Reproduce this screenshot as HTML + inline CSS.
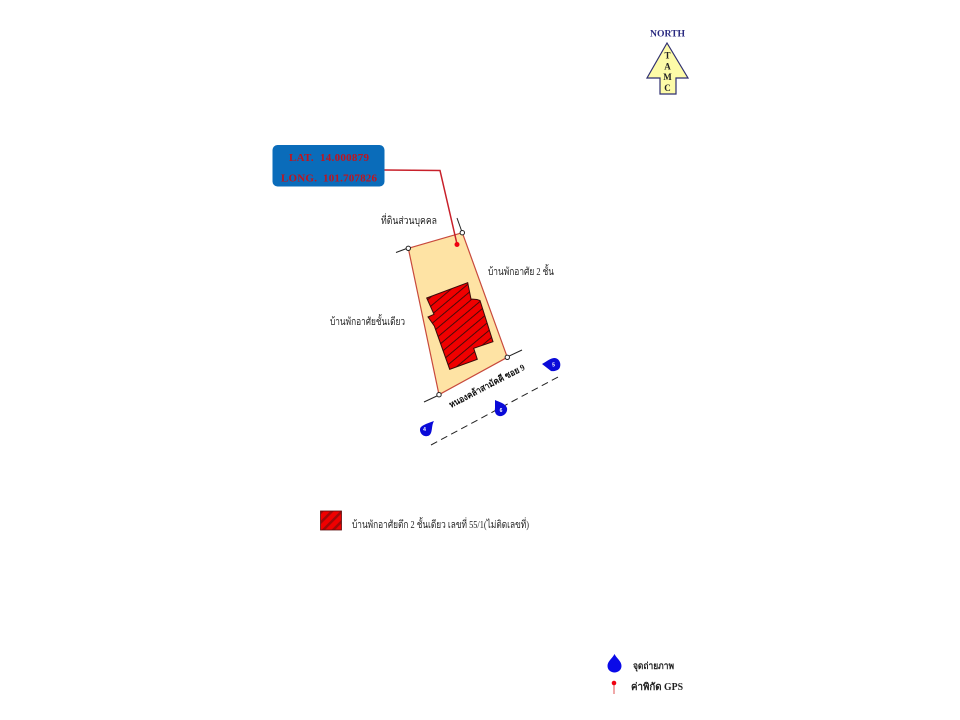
<!DOCTYPE html>
<html>
<head>
<meta charset="utf-8">
<style>
html,body{margin:0;padding:0;background:#fff}
svg{display:block;filter:blur(.3px)}
.s{font-family:"Liberation Serif","Noto Serif CJK SC","Noto Sans CJK SC",serif}
</style>
</head>
<body>
<svg width="960" height="720" viewBox="0 0 960 720" xmlns="http://www.w3.org/2000/svg">
<defs>
<pattern id="h" width="7" height="7" patternUnits="userSpaceOnUse" patternTransform="rotate(-40)">
<rect width="7" height="7" fill="#f00000"/>
<rect y="0" width="7" height="0.9" fill="#3a0a0a"/>
</pattern>
<pattern id="h2" width="7" height="7" patternUnits="userSpaceOnUse" patternTransform="rotate(-45)">
<rect width="7" height="7" fill="#f00000"/>
<rect y="0" width="7" height="2.500" fill="#a00808"/>
</pattern>
</defs>

<!-- North arrow -->
<text class="s" x="650" y="36.500" font-size="9" font-weight="bold" fill="#2a2a80" textLength="35" lengthAdjust="spacingAndGlyphs">NORTH</text>
<polygon points="667,43 688,78 676,78 676,94 660,94 660,78 647,78" fill="#fdfba8" stroke="#2f2f70" stroke-width="1.200"/>
<g class="s" font-size="9" font-weight="bold" fill="#222" text-anchor="middle">
<text x="667.500" y="58.500">T</text>
<text x="667.500" y="69.500">A</text>
<text x="667.500" y="80">M</text>
<text x="667.500" y="91">C</text>
</g>

<!-- Ticks -->
<g stroke="#222" stroke-width="1" fill="none">
<line x1="408" y1="248" x2="396" y2="252.500"/>
<line x1="462" y1="232" x2="457" y2="218"/>
<line x1="507" y1="357" x2="522" y2="350"/>
<line x1="439" y1="395" x2="424" y2="402"/>
</g>

<!-- Plot -->
<polygon points="408.300,248.300 462.300,232.700 507.300,357.300 439,394.700" fill="#fee3a4" stroke="#c8493c" stroke-width="1.200"/>
<g fill="#fff" stroke="#222" stroke-width="1">
<circle cx="408.300" cy="248.300" r="2.200"/>
<circle cx="462.300" cy="232.700" r="2.200"/>
<circle cx="507.300" cy="357.300" r="2.200"/>
<circle cx="439" cy="394.700" r="2.200"/>
</g>

<!-- Building -->
<polygon points="426.700,298 467.700,282.700 471,299 477,299.500 480,300.500 493,341.700 473.700,348.300 477.300,359.300 449.700,369.300 434.300,326 428,317 434,314.300" fill="url(#h)" stroke="#3a0a0a" stroke-width="1"/>

<!-- GPS callout -->
<rect x="272.500" y="145" width="112" height="41.500" rx="5" ry="5" fill="#0a6cba"/>
<text class="s" x="289" y="161" font-size="11" font-weight="bold" fill="#c0141e" textLength="80" lengthAdjust="spacing">LAT.&#160;&#160;14.000879</text>
<text class="s" x="281" y="181.500" font-size="11" font-weight="bold" fill="#c0141e" textLength="96" lengthAdjust="spacing">LONG.&#160;&#160;101.707826</text>
<polyline points="384.500,170 440,170.500 457,244" fill="none" stroke="#c8202a" stroke-width="1.500"/>
<circle cx="457" cy="244.500" r="2.500" fill="#f00010"/>

<!-- Labels -->
<g class="s" font-size="10.500" fill="#222">
<text x="381" y="224" textLength="56" lengthAdjust="spacingAndGlyphs">ที่ดินส่วนบุคคล</text>
<text x="488" y="275" textLength="66" lengthAdjust="spacingAndGlyphs">บ้านพักอาศัย 2 ชั้น</text>
<text x="330" y="325" textLength="75" lengthAdjust="spacingAndGlyphs">บ้านพักอาศัยชั้นเดียว</text>
</g>
<text class="s" font-size="9" font-weight="bold" fill="#111" transform="translate(451,408) rotate(-27.500)" textLength="84" lengthAdjust="spacingAndGlyphs">หนองคล้าสามัคคี ซอย 9</text>

<!-- Dashed road line -->
<line x1="431" y1="445" x2="558" y2="377" stroke="#222" stroke-width="1" stroke-dasharray="7 4.420"/>

<!-- Camera markers -->
<g fill="#0a0ad8">
<path d="M434,421 C431,426 433,433 429,435.500 C424,438 419.500,433.500 420,429 C420.500,425.500 426,424 434,421Z"/>
<path d="M495,400 C499,402 505,403 507,408 C508,413 503,417 499,416 C495,415 494.500,411 495,408Z"/>
<path d="M542,364 C546,362 550,358 555,358 C560,359 561,364 560,367 C559,371 553,371.500 551,371Z"/>
</g>
<g font-family="Liberation Sans,sans-serif" font-size="5" font-weight="bold" fill="#fff" text-anchor="middle">
<text x="424.500" y="431">4</text>
<text x="501" y="412">6</text>
<text x="553.500" y="366.500">5</text>
</g>

<!-- Legend: building -->
<rect x="320.500" y="511" width="21" height="19" fill="url(#h2)" stroke="#5a1010" stroke-width=".8"/>
<text class="s" x="352" y="528" font-size="10.500" fill="#222" textLength="177" lengthAdjust="spacingAndGlyphs">บ้านพักอาศัยตึก 2 ชั้นเดียว เลขที่ 55/1(ไม่ติดเลขที่)</text>

<!-- Legend: bottom-right -->
<path d="M614.500,654 C617,659 621.500,661 621.500,666 C621.500,670 618,672.500 614.500,672.500 C611,672.500 607.500,670 607.500,666 C607.500,661 612,659 614.500,654Z" fill="#0a0ae8"/>
<text class="s" x="633" y="669" font-size="9.500" font-weight="bold" fill="#222" textLength="41" lengthAdjust="spacingAndGlyphs">จุดถ่ายภาพ</text>
<line x1="614" y1="684" x2="614" y2="694" stroke="#e05050" stroke-width="1"/>
<circle cx="614" cy="683" r="2.300" fill="#f00010"/>
<text class="s" x="631" y="690" font-size="10" font-weight="bold" fill="#222" textLength="52" lengthAdjust="spacingAndGlyphs">ค่าพิกัด GPS</text>
</svg>
</body>
</html>
